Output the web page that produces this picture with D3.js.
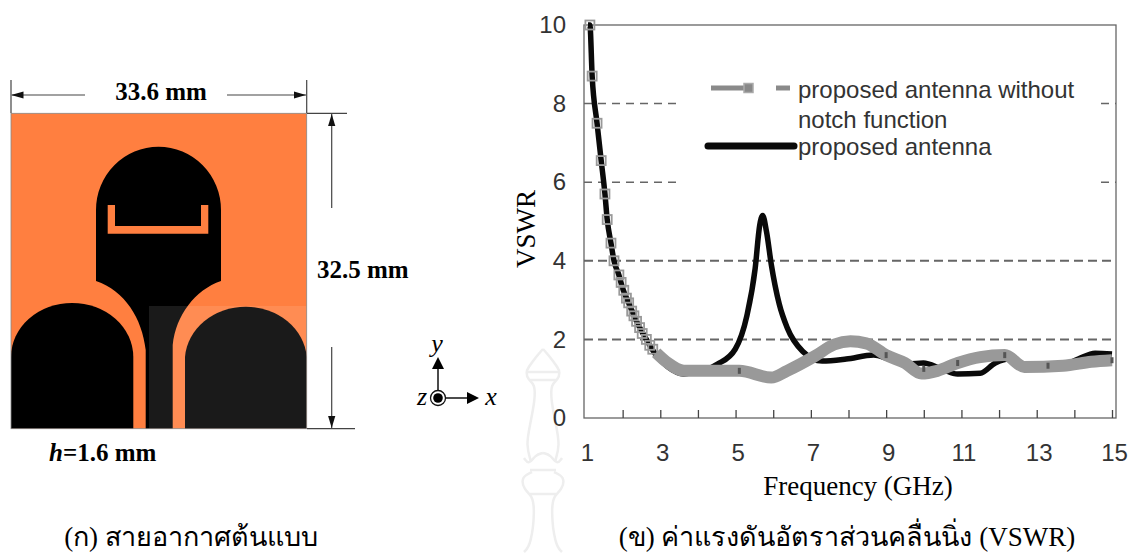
<!DOCTYPE html>
<html>
<head>
<meta charset="utf-8">
<script src="https://cdn.jsdelivr.net/npm/d3@7"></script>
<style>
html, body { margin: 0; padding: 0; background: #fff; overflow: hidden; }
text { font-family: "Liberation Serif", serif; }
.sans { font-family: "Liberation Sans", Arial, sans-serif; }
</style>
</head>
<body>
<div id="vis"></div>
<script>
// values
var blackFreq = [1.08, 1.13, 1.19, 1.32, 1.43, 1.53, 1.59, 1.69, 1.77, 1.9, 2.0, 2.16, 2.37, 2.63, 2.89, 3.2, 3.63, 3.95, 4.2, 4.52, 4.99, 5.3, 5.52, 5.64, 5.72, 5.82, 5.95, 6.16, 6.37, 6.78, 7.3, 7.94, 8.67, 9.08, 9.6, 9.99, 10.47, 10.9, 11.5, 11.9, 12.25, 12.67, 13.7, 14.1, 14.55, 15];
var blackVswr = [10, 10, 8.7, 7.5, 6.55, 5.7, 5.05, 4.45, 4, 3.64, 3.3, 2.93, 2.46, 2.0, 1.6, 1.3, 1.12, 1.18, 1.22, 1.37, 1.75, 2.6, 3.8, 4.9, 5.15, 4.75, 3.9, 2.9, 2.3, 1.7, 1.45, 1.5, 1.6, 1.5, 1.38, 1.4, 1.25, 1.12, 1.14, 1.4, 1.5, 1.3, 1.35, 1.5, 1.65, 1.63];

var greyFreq = [2.89, 3.2, 3.63, 3.95, 5.1, 5.95, 6.37, 7.1, 7.62, 8.05, 8.47, 9, 9.5, 9.94, 10.36, 10.9, 11.5, 12.15, 12.67, 13.7, 14.45, 15];
var greyVswr = [1.66, 1.4, 1.2, 1.2, 1.2, 1.03, 1.2, 1.57, 1.87, 1.95, 1.9, 1.6, 1.4, 1.13, 1.2, 1.4, 1.55, 1.6, 1.3, 1.33, 1.43, 1.47];

// the square markers that can still be told apart
var markerFreq = [1.13, 1.19, 1.32, 1.43, 1.53, 1.59, 1.69, 1.77, 1.9, 1.96, 2.03, 2.1, 2.16, 2.24, 2.3, 2.37, 2.45, 2.52, 2.63, 2.72, 2.8, 5.1, 9.0, 10.0, 10.9, 12.15, 13.3, 15];
var markerVswr = [10, 8.7, 7.5, 6.55, 5.7, 5.05, 4.45, 4, 3.64, 3.45, 3.25, 3.05, 2.93, 2.72, 2.6, 2.46, 2.3, 2.15, 2.0, 1.85, 1.75, 1.2, 1.6, 1.25, 1.4, 1.6, 1.33, 1.47];

var yTicks = [0, 2, 4, 6, 8, 10];
var xMinorTicks = [2, 3, 4, 5, 6, 7, 8, 9, 10, 11, 12, 13, 14, 15];
var xLabels = [1, 3, 5, 7, 9, 11, 13, 15];
var fullDashes = [2, 4];
var partDashes = [6, 8];

var legendGrey = ["proposed antenna without", "notch function"];
var legendBlack = "proposed antenna";

var svg = d3.select("#vis").append("svg")
    .attr("width", 1128)
    .attr("height", 554);

// ---- VSWR chart ----
var x = d3.scaleLinear().domain([1, 15]).range([585, 1112]);
var y = d3.scaleLinear().domain([0, 10]).range([418, 25]);
var plotLeft = 584, plotRight = 1116;

partDashes.forEach(function(v) {
    [[plotLeft, 680], [1101, plotRight]].forEach(function(seg) {
        svg.append("line")
            .attr("x1", seg[0]).attr("x2", seg[1])
            .attr("y1", y(v)).attr("y2", y(v))
            .attr("stroke", "#666").attr("stroke-width", 1.5)
            .attr("stroke-dasharray", "8 6");
    });
});
fullDashes.forEach(function(v) {
    svg.append("line")
        .attr("x1", plotLeft).attr("x2", plotRight)
        .attr("y1", y(v)).attr("y2", y(v))
        .attr("stroke", "#666").attr("stroke-width", 2)
        .attr("stroke-dasharray", "9 5");
});

svg.append("rect")
    .attr("x", plotLeft).attr("y", y(10))
    .attr("width", plotRight - plotLeft).attr("height", y(0) - y(10))
    .attr("fill", "none").attr("stroke", "#666").attr("stroke-width", 1.3);

var axisB = svg.append("g")
    .attr("transform", "translate(0,418)")
    .call(d3.axisBottom(x).tickValues(xMinorTicks).tickSize(-8).tickFormat(""));
axisB.select(".domain").remove();
axisB.selectAll("line").attr("stroke", "#444").attr("stroke-width", 1.3);

var axisL = svg.append("g")
    .attr("transform", "translate(" + plotLeft + ",0)")
    .call(d3.axisLeft(y).tickValues(yTicks).tickSize(0).tickPadding(18));
axisL.select(".domain").remove();
axisL.selectAll("text")
    .attr("class", "sans").style("font-size", "24px").attr("fill", "#333");

var axisLabels = svg.append("g")
    .attr("transform", "translate(2,436)")
    .call(d3.axisBottom(x).tickValues(xLabels).tickSize(0).tickPadding(8).tickFormat(d3.format("d")));
axisLabels.select(".domain").remove();
axisLabels.selectAll("text")
    .attr("class", "sans").style("font-size", "24px").attr("fill", "#333");

var lineGen = d3.line()
    .x(function(d) { return x(d[0]); })
    .y(function(d) { return y(d[1]); });

svg.append("path")
    .datum(d3.zip(blackFreq, blackVswr))
    .attr("d", lineGen.curve(d3.curveMonotoneX))
    .attr("fill", "none").attr("stroke", "#0a0a0a").attr("stroke-width", 5.5)
    .attr("stroke-linejoin", "round");

svg.append("path")
    .datum(d3.zip(greyFreq, greyVswr))
    .attr("d", lineGen.curve(d3.curveMonotoneX))
    .attr("fill", "none").attr("stroke", "#999").attr("stroke-width", 12)
    .attr("stroke-linejoin", "round");

svg.selectAll(".marker")
    .data(d3.zip(markerFreq, markerVswr))
    .enter().append("rect")
    .attr("class", "marker")
    .attr("x", function(d) { return x(d[0]) - (d[0] < 3 ? 4.5 : 1.5); })
    .attr("y", function(d) { return y(d[1]) - (d[0] < 3 ? 4.5 : 3); })
    .attr("width", function(d) { return d[0] < 3 ? 9 : 3; })
    .attr("height", function(d) { return d[0] < 3 ? 9 : 6; })
    .attr("fill", function(d) { return d[0] < 3 ? "none" : "#555"; })
    .attr("stroke", function(d) { return d[0] < 3 ? "#999" : "none"; })
    .attr("stroke-width", 1.8);

// legend
svg.append("line").attr("x1", 711).attr("x2", 747).attr("y1", 88).attr("y2", 88)
    .attr("stroke", "#8a8a8a").attr("stroke-width", 5);
svg.append("rect").attr("x", 744).attr("y", 83.5).attr("width", 9).attr("height", 9)
    .attr("fill", "#888").attr("stroke", "#aaa").attr("stroke-width", 1.5);
svg.append("line").attr("x1", 776).attr("x2", 790).attr("y1", 88).attr("y2", 88)
    .attr("stroke", "#8a8a8a").attr("stroke-width", 5);
svg.append("line").attr("x1", 708).attr("x2", 794).attr("y1", 146).attr("y2", 146)
    .attr("stroke", "#0a0a0a").attr("stroke-width", 7).attr("stroke-linecap", "round");

svg.selectAll(".legendtext")
    .data(legendGrey.concat([legendBlack]))
    .enter().append("text")
    .attr("class", "sans")
    .attr("x", 798)
    .attr("y", function(d, i) { return [98, 128, 155][i]; })
    .style("font-size", "24px")
    .attr("fill", "#333")
    .text(function(d) { return d; });

svg.append("text")
    .attr("transform", "translate(535,229) rotate(-90)")
    .style("text-anchor", "middle").style("font-size", "27px")
    .text("VSWR");

svg.append("text")
    .attr("x", 858).attr("y", 495)
    .style("text-anchor", "middle").style("font-size", "27px")
    .text("Frequency (GHz)");

// ---- antenna drawing ----
var orange = "#ff7f40";
var black = "#000";
var left = 11, right = 306.7, top0 = 113.3, bottom = 428.7;

svg.append("rect")
    .attr("x", left).attr("y", top0)
    .attr("width", right - left).attr("height", bottom - top0)
    .attr("fill", orange);

// radiating patch and feed
svg.append("path")
    .attr("d", "M145.7," + bottom + "V350C142,318 125,291 96,281V210A62.5,63.3 0 0 1 221,210V281C195,290 176,315 172.7,345V" + bottom + "Z")
    .attr("fill", black);

// U shaped slot
svg.append("path")
    .attr("d", "M107.7,205H115V226H201V205H208.3V233.7H107.7Z")
    .attr("fill", orange);

// ground planes
[[11, 133.3], [185, 306.7]].forEach(function(g) {
    svg.append("path")
        .attr("d", "M" + g[0] + "," + bottom + "V357A61,54 0 0 1 " + g[1] + ",357V" + bottom + "Z")
        .attr("fill", black);
});

// pale patch left over in the source image
svg.append("rect")
    .attr("x", 149).attr("y", 306)
    .attr("width", right - 149).attr("height", bottom - 306)
    .attr("fill", "#fff").attr("opacity", 0.1);

svg.append("rect")
    .attr("x", left).attr("y", top0)
    .attr("width", right - left).attr("height", bottom - top0)
    .attr("fill", "none").attr("stroke", "#888").attr("stroke-width", 0.8);

// dimension arrows
svg.append("defs").append("marker")
    .attr("id", "arr").attr("viewBox", "0 0 10 6").attr("refX", 10).attr("refY", 3)
    .attr("markerWidth", 12).attr("markerHeight", 8).attr("markerUnits", "userSpaceOnUse")
    .attr("orient", "auto-start-reverse")
    .append("path").attr("d", "M0,0L10,3L0,6Z").attr("fill", "#111");

function dim(x1, y1, x2, y2, hasArrow) {
    var l = svg.append("line")
        .attr("x1", x1).attr("y1", y1).attr("x2", x2).attr("y2", y2)
        .attr("stroke", "#444").attr("stroke-width", 1.2);
    if (hasArrow) l.attr("marker-end", "url(#arr)");
}
dim(11, 80, 11, 113);
dim(306.7, 80, 306.7, 113);
dim(85, 95, 11.5, 95, true);
dim(227, 95, 306, 95, true);
dim(307, 113.3, 347, 113.3);
dim(307, 428.7, 355, 428.7);
dim(331.7, 208, 331.7, 114, true);
dim(331.7, 347, 331.7, 428, true);

svg.append("text").attr("x", 161).attr("y", 100)
    .style("text-anchor", "middle").style("font-size", "25px").style("font-weight", "bold")
    .text("33.6 mm");
svg.append("text").attr("x", 317).attr("y", 278)
    .style("font-size", "25px").style("font-weight", "bold")
    .text("32.5 mm");
var hLabel = svg.append("text").attr("x", 49).attr("y", 461)
    .style("font-size", "25px").style("font-weight", "bold");
hLabel.append("tspan").style("font-style", "italic").text("h");
hLabel.append("tspan").text("=1.6 mm");

// coordinate symbol
var cx = 438, cy = 398;
svg.append("line").attr("x1", cx).attr("y1", cy - 8).attr("x2", cx).attr("y2", 366)
    .attr("stroke", "#111").attr("stroke-width", 1.5);
svg.append("path").attr("d", "M" + cx + ",357L" + (cx + 6) + ",369L" + (cx - 6) + ",369Z").attr("fill", "#000");
svg.append("line").attr("x1", cx + 8).attr("y1", cy).attr("x2", 468).attr("y2", cy)
    .attr("stroke", "#111").attr("stroke-width", 1.5);
svg.append("path").attr("d", "M479," + cy + "L467," + (cy - 6) + "L467," + (cy + 6) + "Z").attr("fill", "#000");
svg.append("circle").attr("cx", cx).attr("cy", cy).attr("r", 7.5)
    .attr("fill", "#fff").attr("stroke", "#111").attr("stroke-width", 1.3);
svg.append("circle").attr("cx", cx).attr("cy", cy).attr("r", 4.8).attr("fill", "#000");
[["y", 437, 352], ["z", 422, 405], ["x", 491, 405]].forEach(function(a) {
    svg.append("text").attr("x", a[1]).attr("y", a[2])
        .style("text-anchor", "middle").style("font-size", "26px").style("font-style", "italic")
        .text(a[0]);
});

// faint watermark, sits behind the captions
var wm = svg.insert("g", ":first-child").attr("transform", "translate(543,0)")
    .attr("fill", "none").attr("stroke", "#eee").attr("stroke-width", 2.5);
var wmLine = d3.line().curve(d3.curveBasis);
[-1, 1].forEach(function(s) {
    wm.append("path").attr("d", wmLine([[0, 349], [s * 8, 358], [s * 15, 368], [s * 17, 372], [s * 15, 380], [s * 8, 384], [s * 8, 400], [s * 13, 425], [s * 17, 445], [s * 12, 462]]));
    wm.append("path").attr("d", wmLine([[s * 19, 458], [s * 14, 465], [s * 8, 455], [0, 453]]));
    wm.append("path").attr("d", wmLine([[s * 11, 472], [s * 22, 477], [s * 19, 490], [s * 11, 495], [s * 8, 510], [s * 12, 545], [s * 19, 552]]));
});
wm.append("line").attr("x1", -17).attr("x2", 17).attr("y1", 372).attr("y2", 372);
wm.append("line").attr("x1", -13).attr("x2", 13).attr("y1", 380).attr("y2", 380);
wm.append("line").attr("x1", -13).attr("x2", 13).attr("y1", 470).attr("y2", 470);
wm.append("line").attr("x1", -13).attr("x2", 13).attr("y1", 494).attr("y2", 494);

// captions
svg.append("text").attr("x", 191).attr("y", 546)
    .style("text-anchor", "middle").style("font-size", "27px")
    .text("(ก) สายอากาศต้นแบบ");
svg.append("text").attr("x", 847).attr("y", 546)
    .style("text-anchor", "middle").style("font-size", "27px")
    .text("(ข) ค่าแรงดันอัตราส่วนคลื่นนิ่ง (VSWR)");
</script>
</body>
</html>
